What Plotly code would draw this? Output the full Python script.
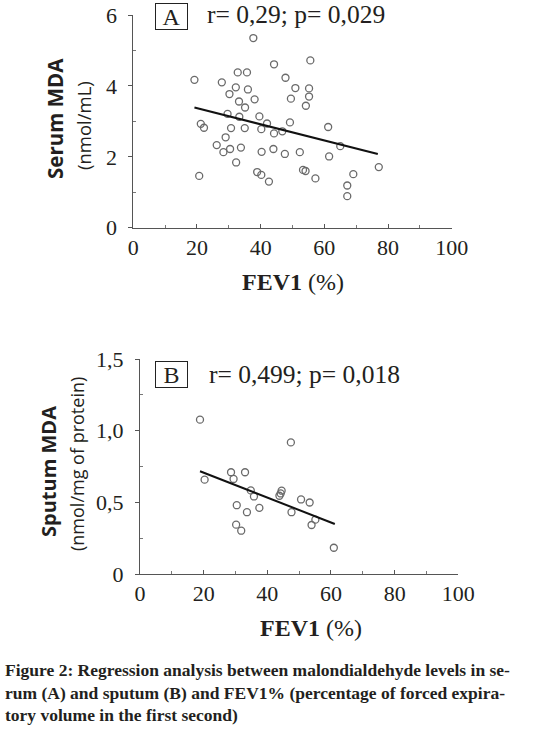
import plotly.graph_objects as go

W, H = 544, 731

# Panel A: Serum MDA vs FEV1
fev1_a = [19.2, 20.7, 21.2, 22.2, 27.8, 26.2, 28.3, 29.0, 29.6, 30.2, 30.4, 30.7, 32.2, 32.3,
          32.8, 33.2, 33.3, 33.8, 35.1, 35.0, 35.7, 36.0, 37.7, 38.1, 38.9, 39.6, 40.2, 40.3,
          40.2, 42.0, 42.6, 44.2, 44.2, 44.0, 46.8, 47.8, 47.6, 49.2, 49.5, 50.9, 52.3, 53.3,
          54.1, 54.2, 55.2, 55.2, 55.6, 57.2, 61.2, 61.5, 65.0, 67.2, 67.2, 69.1, 77.1]
serum_mda = [4.17, 1.46, 2.93, 2.82, 4.10, 2.33, 2.13, 2.55, 3.21, 3.77, 2.22, 2.81, 3.96, 1.84,
             4.38, 3.56, 3.13, 2.26, 3.39, 2.81, 4.38, 3.90, 5.35, 3.62, 1.57, 3.14, 2.78, 2.14,
             1.49, 2.94, 1.30, 4.61, 2.66, 2.22, 2.72, 4.23, 2.08, 2.97, 3.64, 3.94, 2.13, 1.63,
             1.60, 3.44, 3.70, 3.93, 4.72, 1.39, 2.84, 2.01, 2.30, 1.19, 0.89, 1.51, 1.71]
fit_a_x = [19.2, 76.8]
fit_a_y = [3.39, 2.08]

# Panel B: Sputum MDA vs FEV1
fev1_b = [18.85, 20.3, 28.6, 29.4, 33.0, 30.4, 30.2, 31.8, 33.6, 34.8, 35.8, 37.5, 43.8, 44.2,
          44.5, 47.4, 47.6, 50.6, 53.3, 53.9, 55.1, 60.9]
sputum_mda = [1.077, 0.658, 0.710, 0.663, 0.710, 0.480, 0.344, 0.302, 0.431, 0.583, 0.541, 0.461,
              0.546, 0.562, 0.581, 0.918, 0.431, 0.520, 0.499, 0.342, 0.379, 0.183]
fit_b_x = [18.85, 61.2]
fit_b_y = [0.717, 0.349]

x_ticks = [0, 20, 40, 60, 80, 100]
y_ticks_a = [0, 2, 4, 6]
y_ticks_a_text = ["0", "2", "4", "6"]
y_ticks_b = [0, 0.5, 1.0, 1.5]
y_ticks_b_text = ["0", "0,5", "1,0", "1,5"]

SERIF = "Liberation Serif"
SANS = "Open Sans"
TXT = "#231f20"

def px_x(p):
    return p / W

def px_y(p):
    return 1 - p / H

fig = go.Figure()

marker = dict(symbol="circle-open", size=7, color="#6a6a6a", line=dict(width=1.3, color="#6a6a6a"))

fig.add_trace(go.Scatter(x=fev1_a, y=serum_mda, mode="markers", marker=marker,
                         xaxis="x", yaxis="y", cliponaxis=False, showlegend=False))
fig.add_trace(go.Scatter(x=fit_a_x, y=fit_a_y, mode="lines", line=dict(color="#111", width=2),
                         xaxis="x", yaxis="y", showlegend=False))
fig.add_trace(go.Scatter(x=fev1_b, y=sputum_mda, mode="markers", marker=marker,
                         xaxis="x2", yaxis="y2", cliponaxis=False, showlegend=False))
fig.add_trace(go.Scatter(x=fit_b_x, y=fit_b_y, mode="lines", line=dict(color="#111", width=2),
                         xaxis="x2", yaxis="y2", showlegend=False))

def xaxis(domain, anchor):
    return dict(domain=domain, anchor=anchor, range=[0, 100], tickvals=x_ticks, automargin=False,
                showgrid=False, zeroline=False, showline=True, linecolor="#555", linewidth=1,
                ticks="inside", ticklen=4, tickcolor="#555",
                minor=dict(dtick=10, ticks="inside", ticklen=3, tickcolor="#777"),
                tickfont=dict(family=SERIF, size=22, color=TXT), ticklabelstandoff=0)

def yaxis(domain, anchor, rng, tv, tt):
    return dict(domain=domain, anchor=anchor, range=rng, tickvals=tv, ticktext=tt, automargin=False,
                showgrid=False, zeroline=False, showline=True, linecolor="#555", linewidth=1,
                ticks="outside", ticklen=4, tickcolor="#555",
                minor=dict(tickvals=[(tv[i] + tv[i + 1]) / 2 for i in range(len(tv) - 1)],
                           ticks="inside", ticklen=3, tickcolor="#777"),
                tickfont=dict(family=SERIF, size=22, color=TXT), ticklabelstandoff=7)

fig.update_layout(
    width=W, height=H, margin=dict(l=0, r=0, t=0, b=0, autoexpand=False),
    paper_bgcolor="white", plot_bgcolor="white",
    xaxis=xaxis([px_x(133.3), px_x(451.7)], "y"),
    yaxis=yaxis([px_y(227.7), px_y(15)], "x", [0, 6], y_ticks_a, y_ticks_a_text),
    xaxis2=xaxis([px_x(140), px_x(458.3)], "y2"),
    yaxis2=yaxis([px_y(574), px_y(359)], "x2", [0, 1.5], y_ticks_b, y_ticks_b_text),
)

ann = []
def add(text, x, y, size, family=SERIF, xanchor="center", angle=0, **kw):
    ann.append(dict(text=text, x=px_x(x), y=px_y(y), xref="paper", yref="paper",
                    xanchor=xanchor, yanchor="middle", showarrow=False, textangle=angle,
                    font=dict(family=family, size=size, color=TXT), **kw))

# Panel labels and stats
add("A", 171, 16, 24, bordercolor="#222", borderwidth=1, borderpad=1, width=29, height=23)
add("r= 0,29; p= 0,029", 205, 14, 25.5, xanchor="left")
add("B", 171.5, 374, 24, bordercolor="#222", borderwidth=1, borderpad=1, width=29, height=23)
add("r= 0,499; p= 0,018", 207, 374, 25.5, xanchor="left")

# X titles
add("<b>FEV1</b> (%)", 293, 282, 24)
add("<b>FEV1</b> (%)", 311, 628, 24)

# Y titles
add("<b>Serum MDA</b>", 55, 119, 20.5, family=SANS, angle=-90)
add("(nmol/mL)", 83, 126, 18.5, family=SANS, angle=-90)
add("<b>Sputum MDA</b>", 48, 472, 20, family=SANS, angle=-90)
add("(nmol/mg of protein)", 77, 464, 18, family=SANS, angle=-90)

# Caption
cap = ["<b>Figure 2: Regression analysis between malondialdehyde levels in se-</b>",
       "<b>rum (A) and sputum (B) and FEV1% (percentage of forced expira-</b>",
       "<b>tory volume in the first second)</b>"]
for i, line in enumerate(cap):
    add(line, 3, 670 + 22.5 * i, 17.5, xanchor="left")

fig.update_layout(annotations=ann)
fig.write_html("out.html", config={"displayModeBar": False},
               post_script="document.body.style.margin='0';document.body.style.overflow='hidden';")
